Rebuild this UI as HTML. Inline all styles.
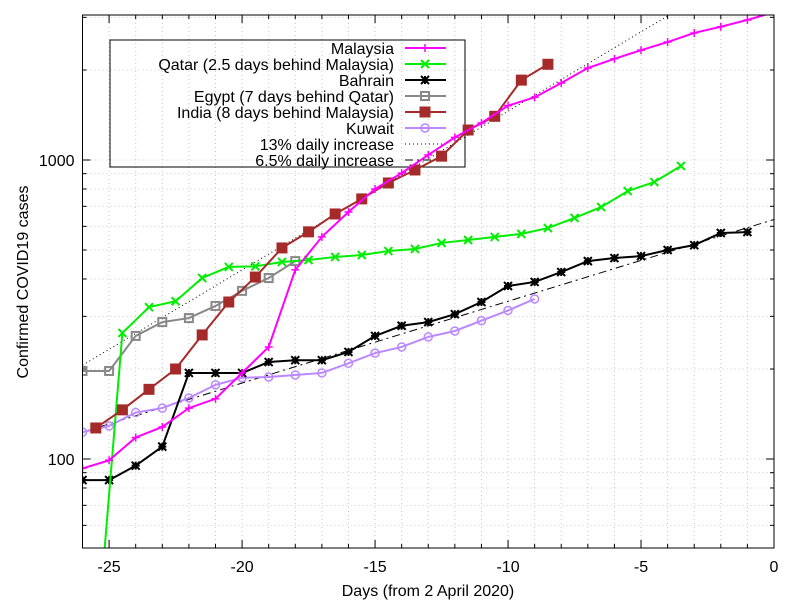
<!DOCTYPE html>
<html><head><meta charset="utf-8"><style>
html,body{margin:0;background:#fff;overflow:hidden;width:800px;height:600px;}
svg{display:block;font-family:"Liberation Sans",sans-serif;}
</style></head><body>
<svg id="chart" width="800" height="600"></svg>
<script>
const malaysiaDays=[-26,-25,-24,-23,-22,-21,-20,-19,-18,-17,-16,-15,-14,-13,-12,-11,-10,-9,-8,-7,-6,-5,-4,-3,-2,-1,0];
const malaysiaVals=[93,99,118,128,148,159,194,237,429,553,670,800,904,1040,1190,1330,1520,1620,1810,2030,2180,2330,2480,2660,2790,2940,3120];
const qatarDays=[-25.5,-24.5,-23.5,-22.5,-21.5,-20.5,-19.5,-18.5,-17.5,-16.5,-15.5,-14.5,-13.5,-12.5,-11.5,-10.5,-9.5,-8.5,-7.5,-6.5,-5.5,-4.5,-3.5];
const qatarVals=[22,264,322,337,403,439,441,456,463,474,481,496,504,528,540,553,566,592,640,696,787,844,955];
const bahrainDays=[-26,-25,-24,-23,-22,-21,-20,-19,-18,-17,-16,-15,-14,-13,-12,-11,-10,-9,-8,-7,-6,-5,-4,-3,-2,-1];
const bahrainVals=[85,85,95,110,194,194,194,211,214,214,228,258,279,287,305,335,379,391,422,459,470,477,500,519,570,574];
const egyptDays=[-26,-25,-24,-23,-22,-21,-20,-19,-18];
const egyptVals=[197,197,258,287,296,325,365,403,459];
const indiaDays=[-25.5,-24.5,-23.5,-22.5,-21.5,-20.5,-19.5,-18.5,-17.5,-16.5,-15.5,-14.5,-13.5,-12.5,-11.5,-10.5,-9.5,-8.5];
const indiaVals=[127,146,171,200,260,335,406,508,575,660,741,838,926,1030,1260,1400,1850,2090];
const kuwaitDays=[-26,-25,-24,-23,-22,-21,-20,-19,-18,-17,-16,-15,-14,-13,-12,-11,-10,-9];
const kuwaitVals=[123,129,143,148,160,177,187,188,191,194,209,226,237,256,268,290,314,343];
const xTicks=[-25,-20,-15,-10,-5,0];
const yTicks=[100,1000];
const rate13Start=206, rate65Start=123;

const NS="http://www.w3.org/2000/svg";
const svg=document.getElementById('chart');
const L=82.5,R=774,T=15,B=548,XMIN=-26,XMAX=0;
const YMIN=50.3,YMAX=3050;
const X=d=>L+(d-XMIN)/(XMAX-XMIN)*(R-L);
const Y=v=>459-(Math.log10(v)-2)*299;
function mk(tag,attrs,parent){const e=document.createElementNS(NS,tag);for(const k in attrs)e.setAttribute(k,attrs[k]);(parent||svg).appendChild(e);return e;}

const defs=mk('defs',{});
const cp=mk('clipPath',{id:'clip'},defs);mk('rect',{x:L,y:T,width:R-L,height:B-T},cp);

const grid=mk('g',{stroke:'#c8c8c8','stroke-width':1,'stroke-dasharray':'1,3'});


for(let d=XMIN+1;d<XMAX;d++){mk('line',{x1:X(d),x2:X(d),y1:T,y2:B},grid);}
const minorY=[];
for(const dec of [10,100,1000]){for(let m=1;m<10;m++){const v=dec*m;if(v>YMIN&&v<YMAX)minorY.push(v);}}
minorY.forEach(v=>mk('line',{x1:L,x2:R,y1:Y(v),y2:Y(v)},grid));

const tk=mk('g',{stroke:'#000','stroke-width':1});
for(let d=XMIN;d<=XMAX;d++){const big=xTicks.includes(d)?8:4;mk('line',{x1:X(d),x2:X(d),y1:B,y2:B-big},tk);mk('line',{x1:X(d),x2:X(d),y1:T,y2:T+big},tk);}
minorY.forEach(v=>{const big=yTicks.includes(v)?8:4;mk('line',{x1:L,x2:L+big,y1:Y(v),y2:Y(v)},tk);mk('line',{x1:R,x2:R-big,y1:Y(v),y2:Y(v)},tk);});

xTicks.forEach(d=>{const t=mk('text',{x:X(d),y:572,'text-anchor':'middle','font-size':16});t.textContent=d;
});
yTicks.forEach(v=>{const t=mk('text',{x:L-8,y:Y(v)+6,'text-anchor':'end','font-size':16});t.textContent=v;
});

const xt=mk('text',{x:428,y:596,'text-anchor':'middle','font-size':16});xt.textContent='Days (from 2 April 2020)';

const yt=mk('text',{x:0,y:0,'text-anchor':'middle','font-size':16,transform:'translate(28,282) rotate(-90)'});yt.textContent='Confirmed COVID19 cases';


function marker(g,type,x,y,c){
  if(type==='plus'){mk('path',{d:`M${x-4},${y}H${x+4}M${x},${y-4}V${y+4}`,stroke:c,'stroke-width':1.5},g);}
  else if(type==='x'){mk('path',{d:`M${x-4},${y-4}L${x+4},${y+4}M${x-4},${y+4}L${x+4},${y-4}`,stroke:c,'stroke-width':2},g);}
  else if(type==='star'){mk('path',{d:`M${x-4},${y-4}L${x+4},${y+4}M${x-4},${y+4}L${x+4},${y-4}M${x-4},${y}H${x+4}M${x},${y-4}V${y+4}`,stroke:c,'stroke-width':2},g);}
  else if(type==='osq'){mk('rect',{x:x-4,y:y-4,width:8,height:8,fill:'none',stroke:c,'stroke-width':2},g);}
  else if(type==='fsq'){mk('rect',{x:x-5,y:y-5,width:10,height:10,fill:c,stroke:c},g);}
  else if(type==='oc'){mk('circle',{cx:x,cy:y,r:4,fill:'none',stroke:c,'stroke-width':1.5},g);}
}

// legend (transparent, drawn under series)
const lg=mk('g',{});


mk('rect',{x:110,y:40,width:355,height:127,fill:'none',stroke:'#000','stroke-width':1},lg);
const entries=[['Malaysia','#ff00ff','plus',null],['Qatar (2.5 days behind Malaysia)','#00ee00','x',null],['Bahrain','#000','star',null],['Egypt (7 days behind Qatar)','#888888','osq',null],['India (8 days behind Malaysia)','#a52a2a','fsq',null],['Kuwait','#bb88ff','oc',null],['13% daily increase','#000',null,'1,3'],['6.5% daily increase','#000',null,'8,4,2,4']];
entries.forEach((e,i)=>{
  const y=48+i*16;
  const eg=mk('g',{},lg);
  
  
  const t=mk('text',{x:394,y:y+6,'text-anchor':'end','font-size':16},eg);t.textContent=e[0];
  mk('line',{x1:405,x2:446,y1:y,y2:y,stroke:e[1],'stroke-width':e[2]?2:1,'stroke-dasharray':e[3]||'none'},eg);
  if(e[2])marker(eg,e[2],425,y,e[1]);
});

const plot=mk('g',{'clip-path':'url(#clip)'});

const r13=mk('line',{x1:X(XMIN),y1:Y(rate13Start),x2:X(XMAX),y2:Y(rate13Start*Math.pow(1.13,XMAX-XMIN)),stroke:'#000','stroke-width':1,'stroke-dasharray':'1,3'},plot);

const r65=mk('line',{x1:X(XMIN),y1:Y(rate65Start),x2:X(XMAX),y2:Y(rate65Start*Math.pow(1.065,XMAX-XMIN)),stroke:'#000','stroke-width':1,'stroke-dasharray':'8,4,2,4'},plot);


function series(name,days,vals,c,type){
  const g=mk('g',{},plot);
  
  
  mk('polyline',{points:days.map((d,i)=>X(d)+','+Y(vals[i])).join(' '),fill:'none',stroke:c,'stroke-width':2},g);
  days.forEach((d,i)=>marker(g,type,X(d),Y(vals[i]),c));
}
series('series-egypt',egyptDays,egyptVals,'#888888','osq');
series('series-kuwait',kuwaitDays,kuwaitVals,'#bb88ff','oc');
series('series-bahrain',bahrainDays,bahrainVals,'#000000','star');
series('series-qatar',qatarDays,qatarVals,'#00ee00','x');
series('series-india',indiaDays,indiaVals,'#a52a2a','fsq');
series('series-malaysia',malaysiaDays,malaysiaVals,'#ff00ff','plus');

const bd=mk('rect',{x:L,y:T,width:R-L,height:B-T,fill:'none',stroke:'#000','stroke-width':1});

</script>
</body></html>
